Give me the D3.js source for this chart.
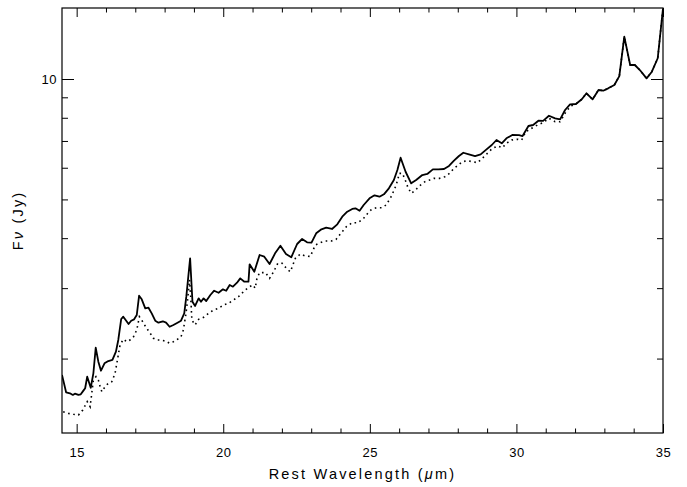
<!DOCTYPE html>
<html>
<head>
<meta charset="utf-8">
<script src="https://cdn.jsdelivr.net/npm/d3@7"></script>
<style>
  html, body { margin: 0; padding: 0; background: #fff; }
  svg { display: block; }
  text { font-family: "Liberation Sans", Arial, Helvetica, sans-serif; fill: #000; }
</style>
</head>
<body>
<svg id="chart" width="687" height="487"></svg>
<script>
// Spectrum sampled in rest wavelength (micron) with flux density in Jy.
const wavelength = [
  14.50, 14.64, 14.77, 14.87, 14.94, 15.06, 15.14, 15.23, 15.29, 15.36,
  15.48, 15.57, 15.65, 15.74, 15.83, 15.95, 16.08, 16.22, 16.34, 16.42,
  16.52, 16.59, 16.69, 16.77, 16.86, 16.96, 17.05, 17.13, 17.22, 17.34,
  17.45, 17.56, 17.68, 17.79, 17.94, 18.05, 18.17, 18.30, 18.44, 18.56,
  18.67, 18.74, 18.87, 18.95, 19.04, 19.16, 19.24, 19.33, 19.42, 19.56,
  19.69, 19.84, 19.99, 20.10, 20.22, 20.33, 20.47, 20.58, 20.72, 20.86,
  20.90, 21.06, 21.24, 21.40, 21.58, 21.78, 21.95, 22.14, 22.32, 22.52,
  22.69, 22.86, 23.01, 23.17, 23.35, 23.51, 23.71, 23.89, 24.06, 24.23,
  24.40, 24.51, 24.65, 24.79, 24.99, 25.16, 25.33, 25.48, 25.65, 25.82,
  25.94, 26.05, 26.22, 26.41, 26.58, 26.79, 26.96, 27.15, 27.34, 27.53,
  27.70, 27.87, 28.04, 28.19, 28.38, 28.59, 28.78, 28.98, 29.16, 29.32,
  29.50, 29.66, 29.86, 30.09, 30.21, 30.41, 30.57, 30.75, 30.91, 31.11,
  31.32, 31.49, 31.66, 31.83, 32.03, 32.23, 32.39, 32.60, 32.80, 32.96,
  33.13, 33.34, 33.51, 33.68, 33.88, 34.04, 34.21, 34.44, 34.62, 34.82,
  35.00
];
const fluxTotal = [
  1.820, 1.647, 1.638, 1.622, 1.634, 1.622, 1.628, 1.663, 1.686, 1.802,
  1.691, 1.837, 2.129, 1.965, 1.865, 1.946, 1.972, 1.984, 2.081, 2.226,
  2.512, 2.545, 2.487, 2.441, 2.487, 2.507, 2.570, 2.872, 2.813, 2.671,
  2.680, 2.595, 2.487, 2.459, 2.479, 2.459, 2.402, 2.427, 2.459, 2.487,
  2.595, 2.856, 3.562, 2.775, 2.707, 2.829, 2.775, 2.829, 2.786, 2.884,
  2.956, 2.922, 2.980, 2.956, 3.055, 3.025, 3.095, 3.174, 3.113, 3.113,
  3.441, 3.298, 3.631, 3.595, 3.447, 3.679, 3.830, 3.652, 3.583, 3.868,
  3.981, 3.906, 3.897, 4.114, 4.210, 4.249, 4.217, 4.332, 4.526, 4.658,
  4.732, 4.751, 4.685, 4.842, 5.031, 5.119, 5.078, 5.149, 5.330, 5.590,
  5.921, 6.356, 5.863, 5.485, 5.590, 5.754, 5.788, 5.945, 5.945, 5.957,
  6.061, 6.248, 6.419, 6.541, 6.481, 6.419, 6.481, 6.670, 6.839, 7.039,
  6.906, 7.107, 7.244, 7.236, 7.202, 7.630, 7.674, 7.866, 7.860, 8.093,
  7.973, 7.928, 8.366, 8.644, 8.660, 8.897, 9.210, 8.897, 9.386, 9.348,
  9.478, 9.661, 10.17, 12.76, 10.84, 10.84, 10.53, 10.04, 10.43, 11.27,
  15.00
];

// Second spectrum (dotted), on its own wavelength grid.
const wavelengthB = [
  14.54, 14.72, 14.89, 15.06, 15.21, 15.36, 15.46, 15.57, 15.66, 15.74,
  15.80, 15.86, 15.97, 16.08, 16.20, 16.31, 16.39, 16.48, 16.59, 16.71,
  16.82, 16.94, 17.05, 17.14, 17.22, 17.28, 17.39, 17.51, 17.62, 17.74,
  17.85, 18.02, 18.17, 18.30, 18.44, 18.56, 18.64, 18.73, 18.79, 18.85,
  18.89, 18.93, 19.04, 19.16, 19.33, 19.50, 19.67, 19.84, 20.01, 20.18,
  20.35, 20.52, 20.69, 20.86, 21.01, 21.09, 21.15, 21.24, 21.44, 21.58,
  21.72, 21.86, 22.01, 22.18, 22.29, 22.46, 22.63, 22.80, 22.97, 23.14,
  23.31, 23.49, 23.69, 23.85, 24.03, 24.20, 24.40, 24.60, 24.79, 24.91,
  25.06, 25.23, 25.40, 25.56, 25.74, 25.90, 26.01, 26.11, 26.20, 26.31,
  26.42, 26.56, 26.73, 26.88, 27.04, 27.19, 27.38, 27.56, 27.72, 27.87,
  28.02, 28.16, 28.33, 28.50, 28.67, 28.84, 29.01, 29.18, 29.37, 29.52,
  29.66, 29.84, 30.04, 30.18, 30.32, 30.52, 30.72, 30.91, 31.11, 31.32,
  31.49, 31.69, 31.86, 32.03, 32.23, 32.39, 32.60, 32.80, 32.96, 33.13,
  33.34, 33.51, 33.68, 33.88, 34.04, 34.21, 34.44, 34.62, 34.82, 35.00
];
const fluxB = [
  1.473, 1.459, 1.451, 1.445, 1.488, 1.561, 1.516, 1.768, 1.802, 1.768,
  1.701, 1.653, 1.701, 1.735, 1.751, 1.837, 1.984, 2.163, 2.235, 2.204,
  2.226, 2.269, 2.358, 2.545, 2.497, 2.450, 2.381, 2.313, 2.248, 2.226,
  2.226, 2.213, 2.184, 2.204, 2.235, 2.269, 2.358, 2.595, 2.829, 3.145,
  2.856, 2.497, 2.427, 2.507, 2.536, 2.595, 2.645, 2.671, 2.723, 2.749,
  2.802, 2.856, 2.939, 3.015, 3.055, 2.998, 3.174, 3.280, 3.280, 3.174,
  3.298, 3.461, 3.461, 3.344, 3.298, 3.562, 3.652, 3.610, 3.600, 3.846,
  3.897, 3.936, 3.936, 3.974, 4.128, 4.274, 4.373, 4.373, 4.485, 4.598,
  4.723, 4.767, 4.767, 4.842, 5.099, 5.433, 5.810, 5.810, 5.612, 5.330,
  5.179, 5.279, 5.433, 5.536, 5.590, 5.645, 5.645, 5.698, 5.810, 5.980,
  6.095, 6.212, 6.248, 6.212, 6.177, 6.336, 6.519, 6.709, 6.800, 6.730,
  6.906, 7.039, 7.068, 7.039, 7.384, 7.530, 7.674, 7.777, 7.973, 7.821,
  7.821, 8.284, 8.561, 8.660, 8.897, 9.210, 8.897, 9.386, 9.348, 9.478,
  9.661, 10.17, 12.76, 10.84, 10.84, 10.53, 10.04, 10.43, 11.27, 15.00
];

// Axis ranges and ticks
const xDomain = [14.5, 35];
const yDomain = [1.303, 15.05];
const xMajorTicks = [15, 20, 25, 30, 35];
const xMinorTicks = [16, 17, 18, 19, 21, 22, 23, 24, 26, 27, 28, 29, 31, 32, 33, 34];
const yMajorTicks = [10];
const yMinorTicks = [2, 3, 4, 5, 6, 7, 8, 9];

const svg = d3.select("#chart");
const box = { left: 62, right: 663, top: 8, bottom: 433 };

const x = d3.scaleLinear().domain(xDomain).range([box.left, box.right]);
const y = d3.scaleLog().domain(yDomain).range([box.bottom, box.top]);

// clip the spectra to the plot box
svg.append("defs").append("clipPath").attr("id", "plotClip")
  .append("rect")
  .attr("x", box.left).attr("y", box.top)
  .attr("width", box.right - box.left).attr("height", box.bottom - box.top);

const line = d3.line().x(d => x(d[0])).y(d => y(d[1]));

const seriesB = wavelengthB.map((w, i) => [w, fluxB[i]]);
const seriesA = wavelength.map((w, i) => [w, fluxTotal[i]]);

const plot = svg.append("g").attr("clip-path", "url(#plotClip)");
plot.append("path")
  .datum(seriesB)
  .attr("d", line)
  .attr("fill", "none")
  .attr("stroke", "#000")
  .attr("stroke-width", 1.6)
  .attr("stroke-dasharray", "1.6 3.6");
plot.append("path")
  .datum(seriesA)
  .attr("d", line)
  .attr("fill", "none")
  .attr("stroke", "#000")
  .attr("stroke-width", 1.8)
  .attr("stroke-linejoin", "round");

// axes with inward ticks on all four sides
function styleAxis(g) {
  g.select(".domain").remove();
  g.selectAll(".tick line").attr("stroke", "#000").attr("stroke-width", 1);
  g.selectAll(".tick text")
    .attr("font-size", 13)
    .attr("letter-spacing", 0.5)
    .attr("font-family", "'Liberation Sans', Arial, sans-serif");
}

// bottom
svg.append("g").attr("transform", `translate(0,${box.bottom})`)
  .call(d3.axisBottom(x).tickValues(xMajorTicks).tickSize(-9).tickPadding(15)
    .tickFormat(d3.format("d")))
  .call(styleAxis);
svg.append("g").attr("transform", `translate(0,${box.bottom})`)
  .call(d3.axisBottom(x).tickValues(xMinorTicks).tickSize(-4.5).tickFormat(""))
  .call(styleAxis);
// top
svg.append("g").attr("transform", `translate(0,${box.top})`)
  .call(d3.axisTop(x).tickValues(xMajorTicks).tickSize(-9).tickFormat(""))
  .call(styleAxis);
svg.append("g").attr("transform", `translate(0,${box.top})`)
  .call(d3.axisTop(x).tickValues(xMinorTicks).tickSize(-4.5).tickFormat(""))
  .call(styleAxis);
// left
svg.append("g").attr("transform", `translate(${box.left},0)`)
  .call(d3.axisLeft(y).tickValues(yMajorTicks).tickSize(-12).tickPadding(5)
    .tickFormat(d3.format("d")))
  .call(styleAxis);
svg.append("g").attr("transform", `translate(${box.left},0)`)
  .call(d3.axisLeft(y).tickValues(yMinorTicks).tickSize(-6).tickFormat(""))
  .call(styleAxis);
// right
svg.append("g").attr("transform", `translate(${box.right},0)`)
  .call(d3.axisRight(y).tickValues(yMajorTicks).tickSize(-12).tickFormat(""))
  .call(styleAxis);
svg.append("g").attr("transform", `translate(${box.right},0)`)
  .call(d3.axisRight(y).tickValues(yMinorTicks).tickSize(-6).tickFormat(""))
  .call(styleAxis);

// plot frame
svg.append("rect")
  .attr("x", box.left).attr("y", box.top)
  .attr("width", box.right - box.left).attr("height", box.bottom - box.top)
  .attr("fill", "none").attr("stroke", "#000").attr("stroke-width", 1.2);

// axis titles (Greek letters set in italic)
const xt = svg.append("text")
  .attr("x", (box.left + box.right) / 2)
  .attr("y", 479)
  .attr("text-anchor", "middle")
  .attr("font-size", 14.5)
  .attr("letter-spacing", 2.2);
xt.append("tspan").text("Rest Wavelength (");
xt.append("tspan").attr("font-style", "italic").text("\u03bc");
xt.append("tspan").text("m)");

const yt = svg.append("text")
  .attr("transform", `translate(23,${(box.top + box.bottom) / 2}) rotate(-90)`)
  .attr("text-anchor", "middle")
  .attr("font-size", 14.5)
  .attr("letter-spacing", 2.2);
yt.append("tspan").text("F");
yt.append("tspan").attr("font-style", "italic").text("\u03bd");
yt.append("tspan").text(" (Jy)");
</script>
</body>
</html>
